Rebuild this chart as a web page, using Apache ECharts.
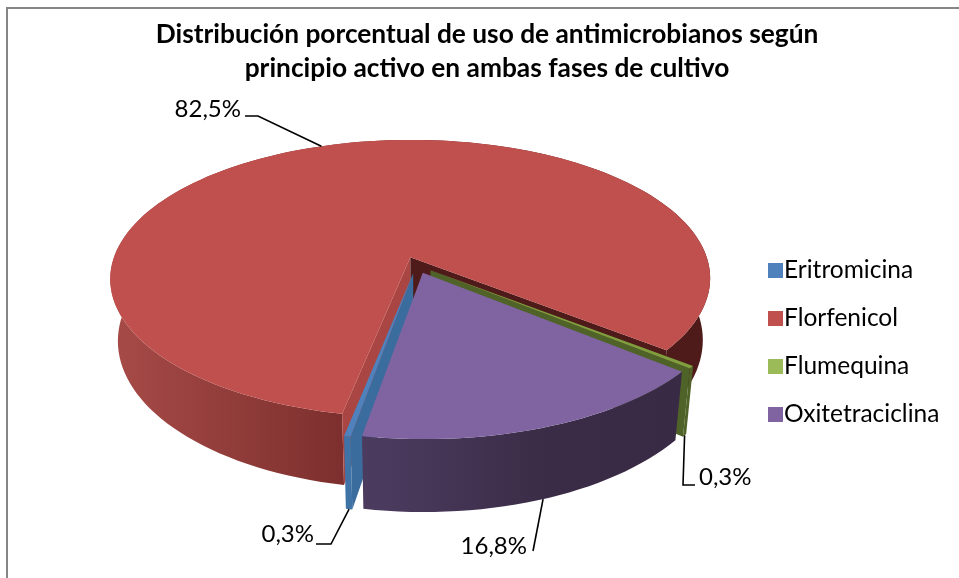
<!DOCTYPE html>
<html>
<head>
<meta charset="utf-8">
<style>
  html, body { margin: 0; padding: 0; background: #fff; }
  #chart { width: 959px; height: 578px; }
</style>
</head>
<body>
<div id="chart"></div>
<script src="https://cdn.jsdelivr.net/npm/echarts@6/dist/echarts.min.js"></script>
<script>
// datos
const categories = ["Eritromicina", "Florfenicol", "Flumequina", "Oxitetraciclina"];
const values = [0.3, 82.5, 0.3, 16.8];
const titleLines = [
  "Distribución porcentual de uso de antimicrobianos según",
  "principio activo en ambas fases de cultivo",
];

// colores: tapa, pared interior, lateral (degradado en x)
const topColors = ["#4f81bd", "#c0504d", "#7f9f3e", "#8064a2"];
const wallColors = ["#3b6c9e", "#a94542", "#4f6228", "#4a3a63"];
const sideStops = [
  [[0, "#4378ad"], [1, "#3a6a9a"]],
  [[0, "#a64a47"], [0.38, "#7c2f2d"], [0.9, "#4e1b1a"], [1, "#4e1b1a"]],
  [[0, "#556b2c"], [1, "#4f6228"]],
  [[0, "#574669"], [0.45, "#4a3a5e"], [0.72, "#3a2c46"], [1, "#382a44"]],
];
const legendColors = ["#4f81bd", "#c0504d", "#9bbb59", "#8064a2"];
const paintOrder = [3, 2, 3, 4]; // orden de pintado de cada porcion

// geometria de la torta 3D
const CX = 416.5, CY = 265;   // centro de la torta sin explotar
const R = 299, TILT = 0.461;  // radio e inclinacion
const PERSP = 0.155;          // perspectiva
const DEPTH = 61;             // altura de la torta
const SHRINK = 0.975;         // la base se ve algo mas angosta
const EXPLODE = 0.06;
const FIRST_ANGLE = 190;      // grados, horario desde arriba
const STEP = 2;

// etiquetas: posicion de texto y quiebre de la linea guia
const labelLayout = [
  { x: 314, y: 534, align: "right", line: [[316, 544], [331, 544]], rim: "bottom" },
  { x: 241, y: 109, align: "right", line: [[245, 116], [258, 116]], rim: "top" },
  { x: 699, y: 477, align: "left", line: [[695, 485], [683, 485]], rim: "bottom" },
  { x: 527, y: 546, align: "right", line: [[533, 551]], rim: "bottom" },
];

const total = values.reduce((a, b) => a + b, 0);
const rad = (d) => (d * Math.PI) / 180;

// angulos de cada porcion a partir de los valores
const spans = [];
let acc = FIRST_ANGLE;
values.forEach((v) => {
  const a1 = acc + (v / total) * 360;
  spans.push([acc, a1]);
  acc = a1;
});

function project(ox, oy, bottom) {
  const s = 1 / (1 - PERSP * oy);
  let x = CX + R * ox * s;
  let y = CY + R * TILT * oy * s;
  if (bottom) {
    x = CX + (x - CX) * SHRINK;
    y += DEPTH * s;
  }
  return [x, y];
}

function sliceGeom(i) {
  const [a0, a1] = spans[i];
  const mid = rad((a0 + a1) / 2);
  const ex = EXPLODE * Math.sin(mid);
  const ey = -EXPLODE * Math.cos(mid);
  const rim = (a, bottom) => project(ex + Math.sin(rad(a)), ey - Math.cos(rad(a)), bottom);
  const arc = (from, to, bottom) => {
    const pts = [];
    const n = Math.max(1, Math.ceil(Math.abs(to - from) / STEP));
    for (let k = 0; k <= n; k++) pts.push(rim(from + ((to - from) * k) / n, bottom));
    return pts;
  };
  return { a0, a1, ex, ey, rim, arc,
    apexTop: project(ex, ey, false), apexBottom: project(ex, ey, true) };
}

function renderSlice(i) {
  const g = sliceGeom(i);
  const children = [];
  const poly = (points, fill) => children.push({
    type: "polygon", shape: { points }, silent: true,
    style: { fill, stroke: null },
  });

  // lateral exterior
  const xs = project(-1, 0)[0];
  const xe = project(1, 0)[0];
  poly(g.arc(g.a0, g.a1, false).concat(g.arc(g.a1, g.a0, true)),
    new echarts.graphic.LinearGradient(xs, 0, xe, 0,
      sideStops[i].map(([offset, color]) => ({ offset, color })), true));

  // paredes interiores, solo las que miran al observador
  const wall = (a, color) => poly([g.apexTop, g.rim(a, false), g.rim(a, true), g.apexBottom], color);
  if (-Math.cos(rad(g.a0 - 90)) > 0) wall(g.a0, wallColors[i]);
  if (-Math.cos(rad(g.a1 + 90)) > 0) wall(g.a1, i === 1 ? "#4e1b1a" : wallColors[i]);

  // tapa
  poly([g.apexTop].concat(g.arc(g.a0, g.a1, false)), topColors[i]);

  // etiqueta y linea guia
  const lay = labelLayout[i];
  const midA = (g.a0 + g.a1) / 2;
  const end = g.rim(midA, lay.rim === "bottom");
  children.push({
    type: "polyline", shape: { points: lay.line.concat([end]) }, silent: true,
    style: { fill: null, stroke: "#000", lineWidth: 1.6 },
  });
  children.push({
    type: "text", silent: true, x: lay.x, y: lay.y,
    style: {
      text: values[i].toFixed(1).replace(".", ",") + "%",
      fill: "#000", font: '24px Lato', textAlign: lay.align, textVerticalAlign: "middle",
    },
  });
  return { type: "group", children };
}

const chart = echarts.init(document.getElementById("chart"), null, { renderer: "canvas" });
chart.setOption({
  animation: false,
  backgroundColor: "#fff",
  title: {
    text: titleLines.join("\n"),
    left: 487,
    top: 13,
    textAlign: "center",
    padding: [5, 9, 5, 0],
    textStyle: { fontFamily: "Lato", fontWeight: "bold", fontSize: 26.3, lineHeight: 34, color: "#000" },
  },
  legend: {
    orient: "vertical",
    left: 763,
    top: 253,
    icon: "rect",
    itemWidth: 15,
    itemHeight: 15,
    itemGap: 23,
    selectedMode: false,
    data: categories,
    textStyle: { fontFamily: "Lato", fontSize: 24.5, color: "#000", padding: [0, 0, 0, -4] },
  },
  graphic: [{
    type: "rect", silent: true, z: -1,
    shape: { x: 7, y: 8, width: 960, height: 580 },
    style: { fill: "#fff", stroke: "#868686", lineWidth: 2 },
  }],
  series: categories.map((name, i) => ({
    type: "custom",
    name,
    coordinateSystem: "none",
    z: paintOrder[i],
    itemStyle: { color: legendColors[i] },
    data: [values[i]],
    renderItem: () => renderSlice(i),
  })),
});
</script>
</body>
</html>
